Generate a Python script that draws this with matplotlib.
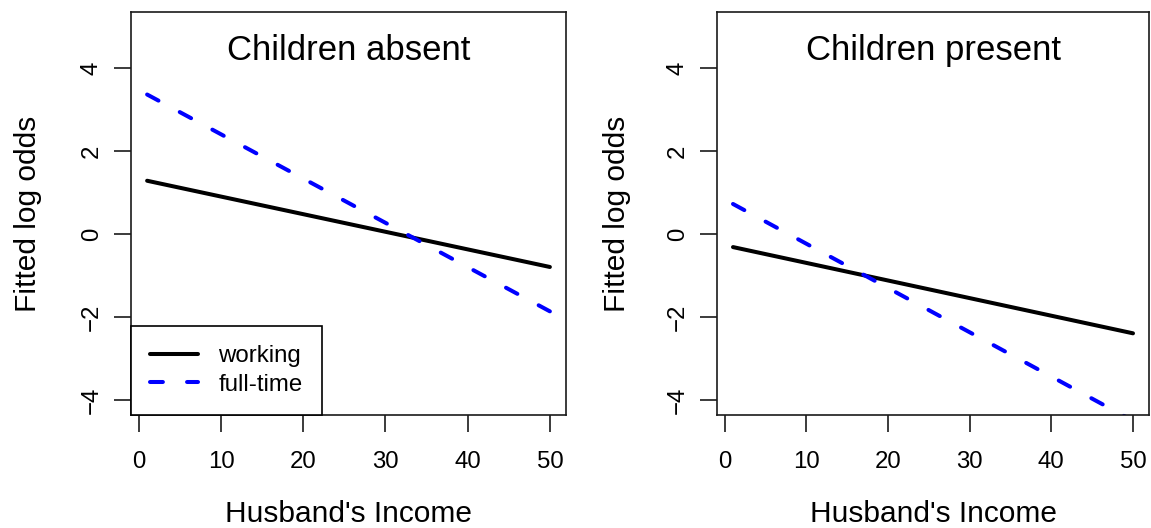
import matplotlib
matplotlib.use("Agg")
import matplotlib.pyplot as plt

# ---- data ----
income = [1, 50]
absent_working = [1.29, -0.79]
absent_fulltime = [3.37, -1.86]
present_working = [-0.31, -2.39]
present_fulltime = [0.73, -4.50]

panel_titles = ["Children absent", "Children present"]
series_labels = ["working", "full-time"]
x_ticks = [0, 10, 20, 30, 40, 50]
y_ticks = [-4, -2, 0, 2, 4]
x_label = "Husband's Income"
y_label = "Fitted log odds"

plt.rcParams['font.family'] = ['Liberation Sans', 'DejaVu Sans']

W, H = 1151, 528
fig = plt.figure(figsize=(W / 100, H / 100), dpi=100)

def px_axes(x0, x1, y0, y1):
    return fig.add_axes([x0 / W, 1 - y1 / H, (x1 - x0) / W, (y1 - y0) / H])

axes = [px_axes(131, 566, 12, 415), px_axes(717, 1149, 12, 415)]
data = [(absent_working, absent_fulltime), (present_working, present_fulltime)]

LW = 2.9
for i, ax in enumerate(axes):
    w, f = data[i]
    ax.plot(income, w, color='black', lw=LW, solid_capstyle='round',
            label=series_labels[0])
    ax.plot(income, f, color='#0000ff', lw=LW, dashes=(3.2, 6.0),
            dash_capstyle='round', label=series_labels[1])
    ax.set_xlim(-0.96, 51.96)
    ax.set_ylim(-4.36, 5.36)
    ax.set_xticks(x_ticks)
    ax.set_yticks(y_ticks)
    for s in ax.spines.values():
        s.set_linewidth(1.2)
        s.set_color('#1a1a1a')
    ax.tick_params(axis='both', direction='out', length=12.2, width=1.2,
                   color='#1a1a1a', labelsize=17.3)
    ax.tick_params(axis='x', pad=14.0)
    ax.tick_params(axis='y', pad=8.0, labelrotation=90)
    for lab in ax.get_yticklabels():
        lab.set_va('center')
    ax.text(0.5, 0.881, panel_titles[i], transform=ax.transAxes,
            ha='center', va='baseline', fontsize=25)
    ax.set_ylabel(y_label, fontsize=21.5)
    ax.yaxis.set_label_coords(-0.205 if i == 0 else -0.2, 0.5)
    # x label
    bb = ax.get_position()
    fig.text(bb.x0 + bb.width / 2, 1 - 522 / H, x_label, ha='center',
             va='baseline', fontsize=21.5)

leg = axes[0].legend(loc='lower left', borderaxespad=0, fontsize=17.3,
                     handlelength=2.0, handletextpad=0.84, borderpad=0.8,
                     labelspacing=0.27, fancybox=False, framealpha=1)
leg.get_frame().set_edgecolor('black')
leg.get_frame().set_linewidth(1.2)

fig.savefig("out.png", dpi=100)
